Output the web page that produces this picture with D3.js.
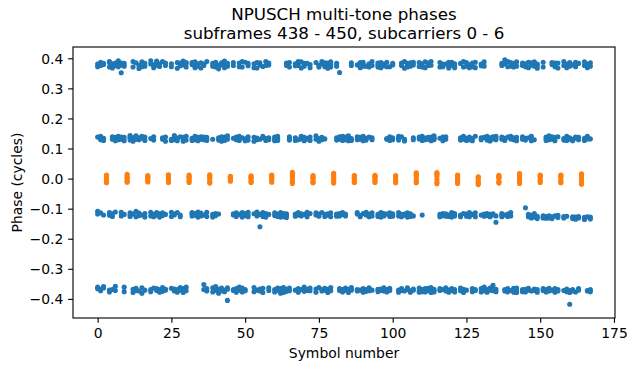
<!DOCTYPE html>
<html><head><meta charset="utf-8">
<script src="https://cdn.jsdelivr.net/npm/d3@7"></script>
<style>body{margin:0;background:#fff}svg{display:block}</style>
</head><body><svg id="c" width="637" height="370"></svg>
<script>
const titleLines = ["NPUSCH multi-tone phases", "subframes 438 - 450, subcarriers 0 - 6"];
const xLabel = "Symbol number";
const yLabel = "Phase (cycles)";
const xTicks = [0, 25, 50, 75, 100, 125, 150, 175];
const yTicks = [-0.4, -0.3, -0.2, -0.1, 0.0, 0.1, 0.2, 0.3, 0.4];
const subcarriers = [0, 1, 2, 3, 4, 5, 6];

// DMRS (pilot) symbols: [symbol, phase per subcarrier 0..6]
const dmrsPhases = [
[3,.012,-.004,.007,-.014,.002,-.009,.005],
[10,.009,-.012,.003,.014,-.006,.001,-.010],
[17,.006,-.008,.010,-.003,-.011,.002,.004],
[24,.011,-.013,.004,-.006,.008,-.001,.013],
[31,.008,-.010,.012,-.004,.002,-.013,.005],
[38,.013,-.012,.005,-.007,.009,-.015,.001],
[45,.006,-.005,.002,-.009,.004,-.001,.008],
[52,.009,-.011,.003,.007,-.006,-.013,.001],
[59,.012,-.008,.005,-.012,.010,-.002,.003],
[66,.021,-.016,.009,.004,-.011,.015,-.006],
[73,.010,-.012,.003,-.007,.006,-.014,.001],
[80,.018,-.015,.007,-.004,.012,-.010,.002],
[87,.009,-.011,.004,-.006,.010,-.013,.001],
[94,.011,-.009,.003,-.013,.006,-.002,.008],
[101,.007,-.014,.010,-.004,.002,-.010,.005],
[108,.019,-.014,.011,-.006,.015,.003,-.010],
[115,.020,-.017,.013,.006,-.012,.016,-.004],
[122,.012,-.013,.007,-.005,.009,-.016,.002],
[129,.006,-.020,.002,-.012,-.005,.004,-.016],
[136,.011,-.012,.004,-.008,.008,-.015,.002],
[143,.017,-.016,.010,-.004,.013,-.009,.003],
[150,.010,-.013,.005,-.009,.007,-.003,.012],
[157,.012,-.014,.008,-.006,.003,-.011,.010],
[164,.016,-.019,.010,-.007,.013,-.013,.002]
];

// Data symbols: [symbol, phase per subcarrier 0..6]
const dataPhases = [
[0,.381,.372,.138,-.109,-.118,-.361,-.366],
[1,.387,.129,.141,-.114,-.373,-.368,.376],
[2,.379,.134,-.121,-.359,-.364,.383,.127],
[4,.386,.371,-.113,-.122,-.371,-.377,.389],
[5,.368,.139,.131,-.117,-.369,.382,-.126],
[6,.384,.126,-.111,-.358,.137,.375,-.372],
[7,.372,.392,.133,.129,.384,.378,.141],
[8,.352,.138,-.124,-.112,.384,.131,.377],
[9,.383,.126,-.119,-.376,-.361,.137,.374],
[11,.139,.128,-.114,-.126,.134,-.121,.143],
[12,.371,.136,-.118,-.368,-.379,.389,.124],
[13,.385,.131,-.127,-.109,-.372,.142,-.365],
[14,.377,.129,-.115,-.374,.366,.136,-.123],
[15,.388,.141,-.121,-.363,-.381,.134,.372],
[16,.374,.127,-.116,-.128,-.371,.383,.138],
[18,.381,.133,-.112,-.369,.392,-.124,-.376],
[19,.369,.128,.139,-.119,-.364,.378,-.127],
[20,.385,.377,-.122,-.113,-.372,-.366,.391],
[21,.373,-.117,-.128,-.369,.382,-.378,-.121],
[22,.389,.136,-.114,-.362,.131,-.123,-.375],
[23,.376,.124,-.119,-.371,.384,.138,-.368],
[25,.382,.131,-.126,-.365,-.112,.372,.127],
[26,.137,.129,-.118,-.374,-.367,.143,-.121],
[27,.367,.135,-.113,-.378,.386,.126,-.369],
[28,.384,.139,-.121,-.362,-.127,.375,-.371],
[29,.378,.132,-.366,-.379,.391,.124,.137],
[30,.371,.128,-.373,.383,-.361,.141,.386],
[32,.386,.134,-.117,-.124,.379,.127,-.113],
[33,.375,.141,-.122,.388,.129,-.116,.369],
[34,.382,.126,-.128,-.111,.137,.374,-.119],
[35,.368,.133,-.115,.139,.385,-.124,.131],
[36,.381,.129,-.121,-.352,-.369,.376,.138],
[37,.389,.137,-.112,-.374,-.366,.127,-.126],
[39,.374,.131,-.119,-.363,.383,-.128,-.377],
[40,.382,.371,-.123,-.116,-.372,.387,-.359],
[41,.377,.136,-.118,-.368,.128,-.381,.365],
[42,.385,.124,.139,-.373,-.364,.378,.133],
[43,.369,.138,-.371,.381,.127,-.376,.391],
[44,.383,.131,-.405,-.368,.374,.142,-.363],
[46,.376,.134,-.121,-.117,-.372,.386,-.369],
[47,.129,.138,-.114,-.126,-.366,.133,-.378],
[48,.384,.127,-.119,-.371,.372,-.361,.141],
[49,.371,.136,-.128,-.364,.389,-.113,-.377],
[50,.387,.132,-.116,-.369,.126,-.123,-.373],
[51,.375,.139,-.121,-.112,.383,.128,-.127],
[53,.382,.124,-.117,-.376,-.362,.369,.137],
[54,.368,.135,-.124,-.371,.386,-.111,.129],
[55,.385,.131,-.160,-.367,-.374,.378,-.119],
[56,.373,.141,-.113,-.365,.136,-.126,-.379],
[57,.389,.127,-.121,-.128,.376,.133,-.116],
[58,.378,.136,-.119,-.372,-.363,.129,.384],
[60,.131,.138,-.114,-.123,-.369,-.377,.126],
[61,.127,.134,-.126,-.118,-.364,.141,-.372],
[62,-.121,-.113,-.374,-.366,-.128,-.381,-.117],
[63,-.116,-.124,-.371,-.362,-.379,-.119,-.127],
[64,.384,-.122,-.368,-.117,.376,-.375,-.129],
[65,.371,.133,-.373,-.364,.386,.128,.139],
[67,.382,.136,-.118,-.371,.127,-.125,.375],
[68,.376,.129,-.113,-.366,-.378,.389,-.121],
[69,.388,.141,-.124,-.369,.132,-.117,.368],
[70,.374,.126,-.119,-.375,-.361,.383,.137],
[71,.383,.134,-.127,-.112,-.372,.131,-.368],
[72,.369,.138,-.116,-.373,.379,.127,-.364],
[74,.386,.131,-.121,-.367,-.378,.142,-.114],
[75,.377,.124,-.118,-.362,.133,.371,-.125],
[76,.381,.137,-.113,-.374,-.369,.129,.389],
[77,.372,.132,-.126,-.371,.385,-.119,-.365],
[78,.384,.376,-.122,-.117,-.368,-.379,.367],
[79,.371,-.114,-.127,-.373,.388,-.362,.379],
[81,.383,.136,-.121,-.118,.128,.374,-.125],
[82,.353,.131,-.116,-.372,-.366,.139,-.124],
[83,.134,.127,-.119,-.369,-.377,.141,-.113],
[84,.129,.138,-.124,-.364,-.371,.133,-.118],
[85,.136,.126,-.373,-.368,.131,-.379,.142],
[86,.385,.133,-.371,-.362,.127,.376,-.367],
[88,.378,.139,-.118,-.374,-.113,.129,-.369],
[89,.369,.131,-.123,-.371,.386,.137,-.127],
[90,.387,.126,-.116,-.366,-.378,.374,.141],
[91,.374,.134,-.121,-.369,.128,-.112,-.375],
[92,.382,.138,-.127,-.373,.371,-.118,-.363],
[93,.376,.129,-.114,-.371,.389,.136,-.124],
[95,.384,.371,-.119,-.126,-.368,-.376,.378],
[96,.369,-.122,-.113,-.372,.386,-.367,-.128],
[97,.381,.375,-.124,-.116,-.374,-.363,-.121],
[98,.387,.133,-.118,-.369,.131,-.377,.372],
[99,.372,.127,-.126,-.365,.139,-.114,-.372],
[100,.383,.136,-.121,.378,.129,-.117,-.125],
[102,.134,.128,-.113,-.371,-.378,.141,-.124],
[103,.376,.139,-.127,-.366,-.372,.384,-.119],
[104,.389,.131,-.118,-.374,.125,-.122,.367],
[105,.371,.383,-.114,-.128,-.369,-.363,.378],
[106,.385,-.121,-.117,-.373,.374,-.378,-.126],
[107,.378,.136,-.124,-.367,.129,-.371,.387],
[109,.373,.132,-.372,-.364,.386,.138,-.378],
[110,.382,.127,-.121,-.369,.141,.371,-.376],
[111,.369,.135,-.372,-.377,.388,.129,-.366],
[112,.384,.131,-.365,-.373,.137,.376,-.371],
[113,.377,.138,-.371,-.379,.126,.389,-.362],
[114,.133,.129,-.374,-.368,.142,-.377,.136],
[116,.386,.134,-.119,-.372,-.127,.371,-.366],
[117,.372,.126,-.123,-.369,.138,-.116,.381],
[118,.381,.139,-.117,-.374,-.363,.131,-.125],
[119,.368,.374,-.126,-.121,-.371,-.378,.387],
[120,.387,-.113,-.119,-.366,.376,-.372,-.128],
[121,.375,.382,-.124,-.369,-.116,-.377,.369],
[123,.383,.136,-.121,-.373,.128,-.364,-.127],
[124,.371,.131,-.116,-.368,.389,.141,-.379],
[125,.386,.127,-.125,-.371,-.118,.374,.134],
[126,.378,.138,-.122,-.113,.369,.129,-.127],
[127,.384,.133,-.119,-.376,-.366,.126,.372],
[128,.369,.141,-.127,-.372,.387,-.114,-.369],
[130,.381,.129,-.121,-.366,-.377,.136,.375],
[131,.374,.137,-.118,-.373,.388,-.125,-.361],
[132,.134,.128,-.123,-.369,-.378,.141,-.116],
[133,.131,.136,-.127,-.364,-.371,.125,-.119],
[134,-.355,.139,-.121,-.373,.132,-.117,-.368],
[135,.129,-.145,-.368,-.376,.136,-.124,.141],
[137,.383,.131,-.116,-.122,.376,.138,-.127],
[138,.395,.127,-.121,-.369,-.374,.134,.381],
[139,.372,.138,-.126,-.366,.389,-.118,-.377],
[140,.386,.132,-.113,-.372,.141,.374,-.124],
[141,.371,.129,-.378,-.365,.383,.136,-.371],
[142,.388,.137,-.372,-.379,.126,.374,-.364],
[144,.376,.131,-.369,-.373,.384,.139,-.376],
[145,.382,.128,-.097,-.368,-.377,.372,.134],
[146,.369,.136,-.127,-.371,.387,-.119,-.365],
[147,.385,.141,-.122,-.374,.126,-.131,.377],
[148,.374,.129,-.128,-.367,-.372,.388,-.116],
[149,.381,.376,-.125,-.133,-.369,-.378,.367],
[151,.387,-.124,-.129,-.372,.371,-.366,-.131],
[152,.133,.138,-.126,-.377,-.369,.127,-.132],
[153,.129,.136,-.131,-.365,-.374,.142,-.124],
[154,.379,.131,-.127,-.371,.386,-.133,.139],
[155,.372,.126,-.124,-.378,-.366,.137,.384],
[156,.384,.139,-.129,-.369,.368,-.122,-.374],
[158,.376,.133,-.131,-.372,.128,-.126,.389],
[159,.369,.127,-.125,-.376,-.367,.381,.141],
[160,.386,.136,-.418,-.372,-.379,.374,.131],
[161,.378,.131,-.133,-.369,.126,-.127,-.374],
[162,.372,.138,-.128,-.377,.387,-.135,.134],
[163,.383,.129,-.131,-.371,-.366,.137,-.126],
[165,.376,.134,-.129,-.136,.388,.127,-.133],
[166,.369,.141,-.127,-.374,-.372,.381,.132],
[167,.385,.132,-.134,-.369,-.376,.374,-.128]
];

const W = 637, H = 370;
const plot = {left: 73, right: 615, top: 47, bottom: 318};
const px = 100 / 72; // points to pixels
const font = "DejaVu Sans, Liberation Sans, sans-serif";

const svg = d3.select("#c");
svg.append("rect").attr("width", W).attr("height", H).attr("fill", "#fff");

const x = d3.scaleLinear().domain([-8.35, 175.35]).range([plot.left, plot.right]);
const y = d3.scaleLinear().domain([-0.4636, 0.4376]).range([plot.bottom, plot.top]);

const flatten = (rows) => rows.flatMap(r => subcarriers.map(k => ({s: r[0], p: r[k + 1]})));

const gData = svg.append("g");
gData.selectAll("circle.d").data(flatten(dataPhases)).join("circle")
  .attr("class", "d").attr("cx", d => x(d.s)).attr("cy", d => y(d.p))
  .attr("r", 2.55).attr("fill", "#1f77b4");
gData.selectAll("circle.p").data(flatten(dmrsPhases)).join("circle")
  .attr("class", "p").attr("cx", d => x(d.s)).attr("cy", d => y(d.p))
  .attr("r", 2.55).attr("fill", "#ff7f0e");

// axes
const tickLen = 3.5 * px, tickPad = 3.5 * px, lw = 0.8 * px;
const xAxis = d3.axisBottom(x).tickValues(xTicks).tickFormat(d3.format("d"))
  .tickSize(tickLen).tickSizeOuter(0).tickPadding(tickPad);
const yAxis = d3.axisLeft(y).tickValues(yTicks).tickFormat(d3.format(".1f"))
  .tickSize(tickLen).tickSizeOuter(0).tickPadding(tickPad);

const gx = svg.append("g").attr("transform", `translate(0,${plot.bottom})`).call(xAxis);
const gy = svg.append("g").attr("transform", `translate(${plot.left},0)`).call(yAxis);
[gx, gy].forEach(g => {
  g.select(".domain").remove();
  g.selectAll(".tick line").attr("stroke", "#000").attr("stroke-width", lw);
  g.selectAll(".tick text").attr("fill", "#000").style("font-family", font).style("font-size", "13.9px");
});
gx.selectAll(".tick text").attr("dy", "0.76em");
gy.selectAll(".tick text").attr("dy", "0.34em");

svg.append("rect")
  .attr("x", plot.left).attr("y", plot.top)
  .attr("width", plot.right - plot.left).attr("height", plot.bottom - plot.top)
  .attr("fill", "none").attr("stroke", "#000").attr("stroke-width", lw);

// labels
svg.append("text").attr("x", (plot.left + plot.right) / 2).attr("y", 358)
  .attr("text-anchor", "middle").style("font-family", font).style("font-size", "13.9px")
  .text(xLabel);
svg.append("text").attr("transform", `translate(22,${(plot.top + plot.bottom) / 2}) rotate(-90)`)
  .attr("text-anchor", "middle").style("font-family", font).style("font-size", "13.9px")
  .text(yLabel);
const titleBase = [20, 39];
titleLines.forEach((t, i) => {
  svg.append("text").attr("x", (plot.left + plot.right) / 2).attr("y", titleBase[i])
    .attr("text-anchor", "middle").style("font-family", font).style("font-size", "16.7px")
    .text(t);
});
</script>
</body></html>
